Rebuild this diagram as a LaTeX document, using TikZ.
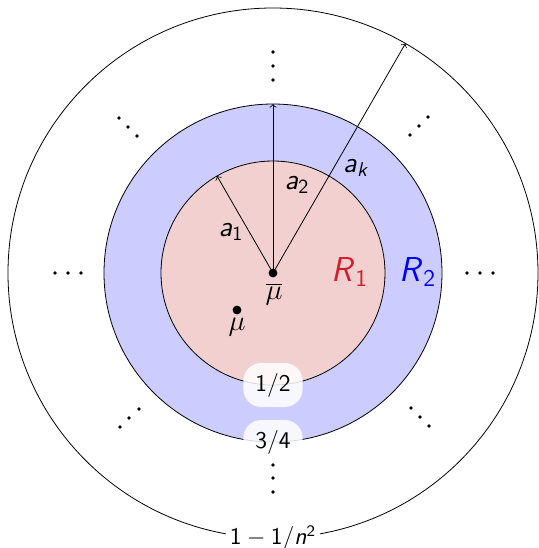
\documentclass[tikz,border=0pt]{standalone}
\usepackage{fontspec}
\definecolor{pinkfill}{RGB}{242,208,208}
\definecolor{bluefill}{RGB}{204,204,255}
\definecolor{rone}{RGB}{210,30,40}
\begin{document}
\begin{tikzpicture}[x=0.5pt,y=0.5pt,font=\sffamily,
  ring/.style={circle,draw,inner sep=0pt,outer sep=0pt},
  fraclabel/.style={font=\sffamily\large,fill=white,fill opacity=0.85,text opacity=1,rounded corners=9pt,inner xsep=6pt,inner ysep=5pt,minimum height=19pt},
  dotmark/.style={fill=black},
  alabel/.style={font=\sffamily\Large},
  rlabel/.style={font=\sffamily\LARGE}]
\useasboundingbox (-273,-275) rectangle (266,273);
\node[ring,minimum size=265pt] (outer) at (0,0) {};
\node[ring,fill=bluefill,minimum size=169pt] (mid) at (0,0) {};
\node[ring,fill=pinkfill,minimum size=112pt] (inner) at (0,0) {};
\node[circle,fill,inner sep=0pt,minimum size=4.4pt] (c) at (0,0) {};
\node[circle,fill,inner sep=0pt,minimum size=4.4pt] (m) at (-36,-37) {};
\draw[->] (c.center) -- (inner.120);
\draw[->] (c.center) -- (mid.90);
\draw[->] (c.center) -- (outer.60);
\node[alabel] (la1) at (-42,41) {\textit{a}\textsubscript{1}};
\node[alabel] (la2) at (24,88) {\textit{a}\textsubscript{2}};
\node[alabel] (lak) at (83,105) {\textit{a}\textsubscript{\textit{k}}};
\node[rlabel,text=rone] (r1) at (77,1) {\textit{R}\textsubscript{1}};
\node[rlabel,text=blue] (r2) at (145,1) {\textit{R}\textsubscript{2}};
\node[alabel] (lmubar) at (1,-21) {$\overline{\mu}$};
\node[alabel] (lmu) at (-36,-54) {$\mu$};
\node[fraclabel] (half) at (inner.south) {1/2};
\node[fraclabel] (tq) at (mid.south) {3/4};
\node[fill=white,inner sep=2pt,font=\sffamily\large] (ln) at (outer.south) {1${}-{}$1/\textit{n}\textsuperscript{2}};
% dots
\foreach \p in {(0,221),(0,207),(0,193),(0,-192),(0,-205),(0,-219),
  (-218,0),(-205,0),(-192,0),(194,0),(207,0),(220,0),
  (-154,155),(-145,146),(-136,137),(137,138),(146,147),(155,156),
  (-153,-154),(-144,-145),(-134,-136),(138,-135),(147,-144),(156,-153)}
  \fill[dotmark] \p circle[radius=0.95pt];
\end{tikzpicture}
\end{document}
